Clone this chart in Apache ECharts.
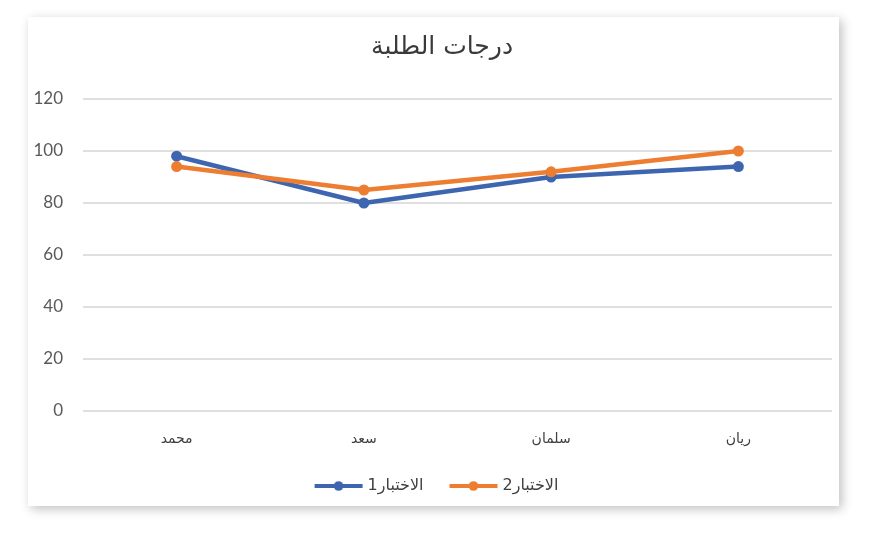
<!DOCTYPE html>
<html>
<head>
<meta charset="utf-8">
<script src="https://cdn.jsdelivr.net/npm/echarts@6/dist/echarts.min.js"></script>
<style>
html,body{margin:0;padding:0;background:#ffffff;}
#c{width:871px;height:536px;}
</style>
</head>
<body>
<div id="c"></div>
<script>
var categories = ['محمد', 'سعد', 'سلمان', 'ريان'];
var test1 = [98, 80, 90, 94];
var test2 = [94, 85, 92, 100];
var seriesNames = ['الاختبار1', 'الاختبار2'];
var yTicks = { min: 0, max: 120, interval: 20 };

var chart = echarts.init(document.getElementById('c'));
chart.setOption({
  backgroundColor: '#ffffff',
  animation: false,
  graphic: [{
    type: 'rect',
    z: -10,
    shape: { x: 28, y: 17, width: 811, height: 489 },
    style: { fill: '#ffffff', shadowBlur: 10, shadowColor: 'rgba(0,0,0,0.25)', shadowOffsetX: 3, shadowOffsetY: 3 }
  }],
  title: {
    text: 'درجات الطلبة',
    left: 437,
    top: 30,
    textAlign: 'center',
    textStyle: { fontFamily: 'DejaVu Sans', fontSize: 25, fontWeight: 'normal', color: '#3a3a3a' }
  },
  legend: {
    data: seriesNames,
    top: 473,
    left: 'center',
    itemWidth: 48,
    itemHeight: 12,
    itemGap: 24,
    lineStyle: { width: 4 },
    textStyle: { fontFamily: 'DejaVu Sans', fontSize: 16, color: '#404040' }
  },
  grid: { left: 83, right: 39, top: 99, bottom: 125, containLabel: false },
  xAxis: {
    type: 'category',
    data: categories,
    boundaryGap: true,
    axisLine: { show: false },
    axisTick: { show: false },
    axisLabel: { margin: 21, fontFamily: 'DejaVu Sans', fontSize: 14, color: '#404040' }
  },
  yAxis: {
    type: 'value',
    min: yTicks.min,
    max: yTicks.max,
    interval: yTicks.interval,
    axisLine: { show: false },
    axisTick: { show: false },
    axisLabel: { margin: 20, fontFamily: 'Lato', fontSize: 17, color: '#595959' },
    splitLine: { lineStyle: { color: '#d4d4d4', width: 1.5 } }
  },
  series: [{
    name: seriesNames[0],
    type: 'line',
    data: test1,
    symbol: 'circle',
    symbolSize: 11,
    color: '#3e66b0',
    lineStyle: { width: 4.5, color: '#3e66b0' },
    itemStyle: { color: '#3e66b0' }
  }, {
    name: seriesNames[1],
    type: 'line',
    data: test2,
    symbol: 'circle',
    symbolSize: 11,
    color: '#ed7d31',
    lineStyle: { width: 4.5, color: '#ed7d31' },
    itemStyle: { color: '#ed7d31' }
  }]
});
</script>
</body>
</html>
